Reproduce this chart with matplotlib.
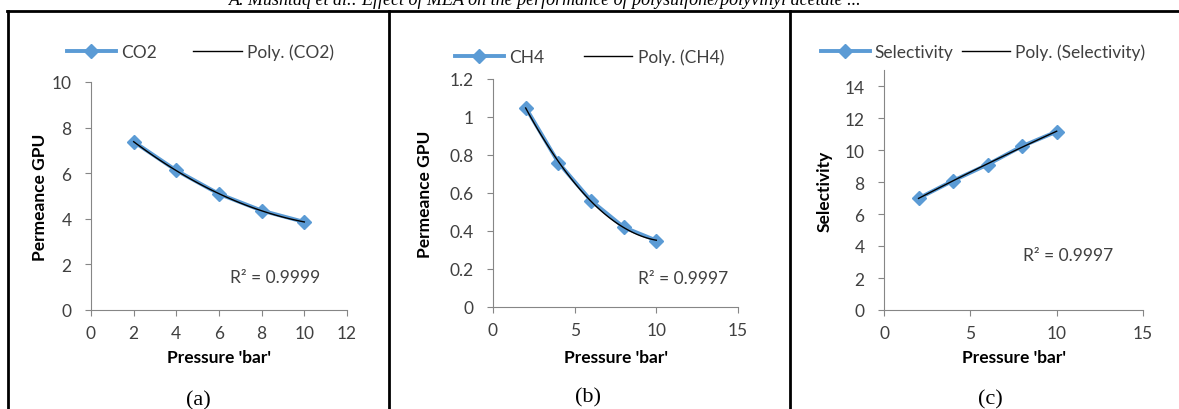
import matplotlib
matplotlib.use("Agg")
import matplotlib.pyplot as plt
import numpy as np
from matplotlib.lines import Line2D
from matplotlib.ticker import FuncFormatter

W, H = 1179, 410

# data
pressure = [2, 4, 6, 8, 10]
co2_permeance = [7.38, 6.12, 5.09, 4.36, 3.86]
ch4_permeance = [1.05, 0.76, 0.56, 0.42, 0.35]
selectivity = [6.98, 8.08, 9.09, 10.24, 11.15]
series_names = ["CO2", "CH4", "Selectivity"]
y_labels = ["Permeance GPU", "Permeance GPU", "Selectivity"]
r2_values = ["0.9999", "0.9997", "0.9997"]
captions = ["(a)", "(b)", "(c)"]
header = "A. Mushtaq et al.: Effect of MEA on the performance of polysulfone/polyvinyl acetate ..."

blue = "#5B9BD5"
gray = "#868686"
txt = "#404040"
fs = 12.5

plt.rcParams["font.family"] = ["Lato", "DejaVu Sans"]


def fx(px):
    return px / W


def fy(py):
    return 1 - py / H


def px_axes(fig, x0, y0, x1, y1):
    return fig.add_axes([fx(x0), fy(y1), (x1 - x0) / W, (y1 - y0) / H])


fig = plt.figure(figsize=(W / 100, H / 100), dpi=100)

# table borders
for (xa, ya, xb, yb) in [(7, 12, W, 12), (8, 12, 8, H), (389, 12, 389, H), (790, 12, 790, H)]:
    fig.add_artist(Line2D([fx(xa), fx(xb)], [fy(ya), fy(yb)], color="black", lw=2.0))

fig.text(fx(545), fy(5), header, ha="center", va="baseline", fontsize=13,
         family="Liberation Serif", style="italic")

# (axes box px, xlim, xticks, ylim, yticks, ylabel x, legend x, legend y, colspacing, r2 xy, caption xy)
layouts = [
    ((91, 83, 347, 311), (0, 12), range(0, 13, 2), (0, 10), range(0, 11, 2), 48, 67, 53, 2.1, (230, 278), (198, 401)),
    ((493, 80, 738, 308), (0, 15), range(0, 16, 5), (0, 1.2), np.arange(0, 1.21, 0.2), 433, 455, 58, 2.3, (638, 279), (588, 398)),
    ((884, 71, 1143, 311), (0, 15), range(0, 16, 5), (0, 15), range(0, 15, 2), 833, 821, 53, 0.45, (1023, 256), (990, 400)),
]
values = [co2_permeance, ch4_permeance, selectivity]

for i, lay in enumerate(layouts):
    box, xlim, xticks, ylim, yticks, ylab_x, leg_x, leg_y, colsp, r2xy, capxy = lay
    ax = px_axes(fig, *box)
    y = values[i]
    ax.plot(pressure, y, color=blue, lw=2.8, marker="D", markersize=7.5,
            label=series_names[i], zorder=2)
    coef = np.polyfit(pressure, y, 2)
    xs = np.linspace(min(pressure), max(pressure), 100)
    ax.plot(xs, np.polyval(coef, xs), color="black", lw=1.0,
            label=f"Poly. ({series_names[i]})", zorder=3)

    ax.set_xlim(*xlim)
    ax.set_ylim(*ylim)
    ax.set_xticks(list(xticks))
    ax.set_yticks(list(yticks))
    ax.yaxis.set_major_formatter(FuncFormatter(lambda v, p: f"{round(v, 2):g}"))
    for s in ["top", "right"]:
        ax.spines[s].set_visible(False)
    for s in ["left", "bottom"]:
        ax.spines[s].set_color(gray)
        ax.spines[s].set_linewidth(0.8)
    ax.tick_params(axis="both", colors=gray, labelcolor=txt, labelsize=fs,
                   length=4, width=0.8, direction="out")
    ax.tick_params(axis="y", pad=10)
    ax.tick_params(axis="x", pad=7)

    x0, y0, x1, y1 = box
    ax.set_xlabel("Pressure 'bar'", fontsize=fs, fontweight="bold")
    ax.xaxis.set_label_coords(0.5, (y1 - 350) / (y1 - y0))
    ax.set_ylabel(y_labels[i], fontsize=fs, fontweight="bold")
    ax.yaxis.set_label_coords((ylab_x - x0) / (x1 - x0), 0.5)

    fig.legend(handles=ax.get_lines(), loc="center left",
               bbox_to_anchor=(fx(leg_x), fy(leg_y)), ncol=2, frameon=False,
               fontsize=fs, numpoints=1, handlelength=2.8, handletextpad=0.3,
               columnspacing=colsp, borderpad=0, borderaxespad=0,
               labelcolor=txt)

    fig.text(fx(r2xy[0]), fy(r2xy[1]), f"R² = {r2_values[i]}", ha="left",
             va="center", fontsize=fs, color=txt)
    fig.text(fx(capxy[0]), fy(capxy[1]), captions[i], ha="center", va="center",
             fontsize=16, family="Liberation Serif")

fig.savefig("out.png", dpi=100)
